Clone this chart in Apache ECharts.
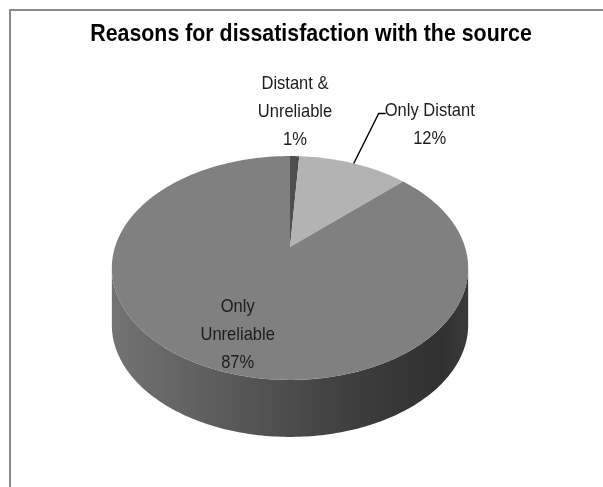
<!DOCTYPE html>
<html>
<head>
<meta charset="utf-8">
<script src="https://cdn.jsdelivr.net/npm/echarts@6/dist/echarts.min.js"></script>
<style>
  html, body { margin: 0; padding: 0; background: #fff; }
  #chart { width: 603px; height: 487px; }
</style>
</head>
<body>
<div id="chart"></div>
<script>
// Reasons for dissatisfaction with the source (share of respondents, %)
const categories = ['Distant & Unreliable', 'Only Distant', 'Only Unreliable'];
const labelNames = ['Distant &\nUnreliable', 'Only Distant', 'Only\nUnreliable'];
const shares = [1, 12, 87];
const sliceColors = ['#4e4e4e', '#b3b3b3', '#808080'];
const titleText = 'Reasons for dissatisfaction with the source';

const FONT = "'Liberation Sans', Arial, sans-serif";
const NARROW = 0.87;          // horizontal squeeze for a condensed look

// Tilted disc drawn with a light perspective: the far half is compressed.
const G = { cx: 290, cy: 247, A: 108, B: 175, k: 0.1875, depth: 57 };
function proj(r, theta) {
  const u = r * Math.sin(theta), v = r * Math.cos(theta);
  const d = 1 + G.k * v;
  return [G.cx + G.B * u / d, G.cy - G.A * v / d];
}
// Visible front wall runs between the two silhouette points of the rim.
const frontStart = Math.atan2(Math.sqrt(1 - G.k * G.k), -G.k);
const frontEnd = 2 * Math.PI - frontStart;

const total = shares.reduce((a, b) => a + b, 0);
const starts = [];
let acc = 0;
shares.forEach(v => { starts.push(acc / total * 2 * Math.PI); acc += v; });

// Label placement: radius on the disc plane plus a small nudge.
const labelLayout = [
  { r: 1.665, dx: -2, dy: 2 },
  { leader: true },
  { r: 0.755, dx: 8, dy: 2 }
];
const LABEL_SIZE = 19, LINE_H = 28;

const measureCtx = document.createElement('canvas').getContext('2d');
measureCtx.font = LABEL_SIZE + 'px ' + FONT;

function arcPoints(a, b, r, offY) {
  const pts = [];
  const n = Math.max(2, Math.ceil((b - a) / (Math.PI / 180)));
  for (let i = 0; i <= n; i++) {
    const p = proj(r, a + (b - a) * i / n);
    pts.push([p[0], p[1] + (offY || 0)]);
  }
  return pts;
}

const sideFill = {
  type: 'linear', x: 112, y: 0, x2: 468, y2: 0, global: true,
  colorStops: [
    { offset: 0, color: '#737373' },
    { offset: 0.35, color: '#585858' },
    { offset: 0.7, color: '#3c3c3c' },
    { offset: 0.92, color: '#313131' },
    { offset: 1, color: '#3a3a3a' }
  ]
};

function renderItem(params, api) {
  const i = params.dataIndex;
  const value = api.value(0);
  const a = starts[i];
  const b = a + value / total * 2 * Math.PI;
  const children = [];

  // front wall portion belonging to this slice
  const s = Math.max(a, frontStart), e = Math.min(b, frontEnd);
  if (e > s) {
    const top = arcPoints(s, e, 1, 0);
    const bottom = arcPoints(s, e, 1, G.depth).reverse();
    children.push({
      type: 'polygon',
      shape: { points: top.concat(bottom) },
      style: { fill: sideFill, stroke: null },
      z2: 1
    });
  }

  // top face
  const apex = proj(0, 0);
  children.push({
    type: 'polygon',
    shape: { points: [apex].concat(arcPoints(a, b, 1, 0)) },
    style: { fill: sliceColors[i], stroke: null },
    z2: 2
  });

  // label
  const mid = (a + b) / 2;
  const text = labelNames[i] + '\n' + Math.round(value / total * 100) + '%';
  const lay = labelLayout[i];
  let tx, ty;
  if (lay.leader) {
    const p = proj(1, mid);
    const elbow = [p[0] + 25, p[1] - 50];
    const end = [elbow[0] + 7, elbow[1]];
    children.push({
      type: 'polyline',
      shape: { points: [p, elbow, end] },
      style: { stroke: '#000', lineWidth: 1.4, fill: null },
      z2: 50
    });
    const w = measureCtx.measureText(labelNames[i]).width * NARROW;
    tx = end[0] + w / 2 - 1;
    ty = elbow[1] - 3 + LINE_H / 2;
  } else {
    const p = proj(lay.r, mid);
    tx = p[0] + lay.dx;
    ty = p[1] + lay.dy;
  }
  children.push({
    type: 'text',
    x: tx, y: ty, scaleX: NARROW,
    style: {
      text: text, x: 0, y: 0,
      align: 'center', verticalAlign: 'middle',
      fontSize: LABEL_SIZE, fontFamily: FONT, lineHeight: LINE_H,
      fill: '#1c1c1c'
    },
    z2: 100
  });
  return { type: 'group', children: children };
}

const chart = echarts.init(document.getElementById('chart'), null, { renderer: 'canvas' });
chart.setOption({
  backgroundColor: '#ffffff',
  animation: false,
  graphic: [{
    type: 'rect',
    shape: { x: 10, y: 10, width: 700, height: 600 },
    style: { fill: null, stroke: '#8a8a8a', lineWidth: 2 },
    silent: true
  }, {
    type: 'text',
    x: 311, y: 34, scaleX: 0.89,
    style: {
      text: titleText, x: 0, y: 0,
      align: 'center', verticalAlign: 'middle',
      fontSize: 24, fontWeight: 'bold', fontFamily: FONT, fill: '#000'
    },
    silent: true
  }],
  series: [{
    type: 'custom',
    coordinateSystem: 'none',
    renderItem: renderItem,
    data: shares.map((v, i) => ({ name: categories[i], value: [v] }))
  }]
});
</script>
</body>
</html>
